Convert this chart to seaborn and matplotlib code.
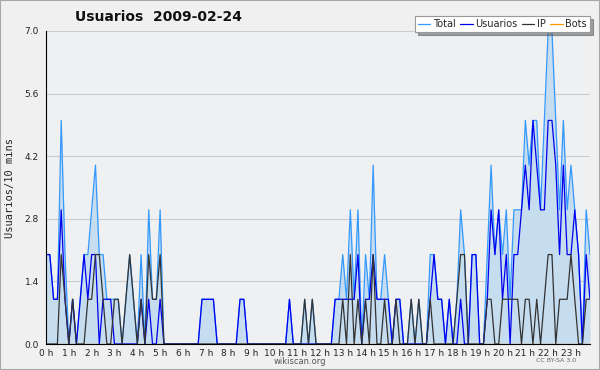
import matplotlib
matplotlib.use("Agg")
import matplotlib.pyplot as plt
from matplotlib.patches import Rectangle
import seaborn as sns
import pandas as pd
import numpy as np

# ---- data (one value every 10 minutes, 144 points) ----
hours = [f"{h} h" for h in range(24)]

usuarios = [
    2, 2, 1, 1, 3, 1, 0, 1, 0, 1, 2, 1, 2, 2, 0, 1, 1, 1, 0, 0, 0, 0, 0, 0,
    0, 1, 0, 1, 0, 0, 1, 0, 0, 0, 0, 0, 0, 0, 0, 0, 0, 1, 1, 1, 1, 0, 0, 0,
    0, 0, 0, 1, 1, 0, 0, 0, 0, 0, 0, 0, 0, 0, 0, 0, 1, 0, 0, 0, 0, 0, 0, 0,
    0, 0, 0, 0, 1, 1, 1, 1, 1, 1, 2, 0, 1, 1, 2, 1, 1, 1, 1, 0, 1, 1, 0, 0,
    0, 0, 0, 0, 0, 1, 2, 1, 1, 0, 1, 0, 0, 1, 0, 0, 2, 2, 0, 0, 1, 3, 2, 3,
    1, 2, 0, 2, 2, 3, 4, 3, 5, 4, 3, 3, 5, 5, 4, 2, 4, 2, 2, 3, 2, 0, 2, 1,
]
ip = [
    0, 0, 0, 0, 2, 1, 0, 1, 0, 0, 0, 1, 1, 2, 2, 1, 0, 0, 1, 1, 0, 1, 2, 1,
    0, 1, 0, 2, 1, 1, 2, 0, 0, 0, 0, 0, 0, 0, 0, 0, 0, 0, 0, 0, 0, 0, 0, 0,
    0, 0, 0, 0, 0, 0, 0, 0, 0, 0, 0, 0, 0, 0, 0, 0, 0, 0, 0, 0, 1, 0, 1, 0,
    0, 0, 0, 0, 0, 0, 1, 0, 2, 0, 1, 0, 1, 0, 2, 0, 0, 1, 0, 0, 1, 0, 0, 0,
    1, 0, 1, 0, 0, 1, 0, 0, 0, 0, 0, 0, 1, 2, 2, 0, 0, 0, 0, 0, 1, 1, 0, 0,
    1, 1, 1, 1, 1, 0, 1, 1, 0, 1, 0, 1, 2, 2, 0, 1, 1, 1, 2, 1, 0, 0, 1, 1,
]
total = [
    2, 2, 1, 1, 5, 2, 0, 1, 0, 1, 2, 2, 3, 4, 2, 2, 1, 1, 1, 1, 0, 1, 2, 1,
    0, 2, 0, 3, 1, 1, 3, 0, 0, 0, 0, 0, 0, 0, 0, 0, 0, 1, 1, 1, 1, 0, 0, 0,
    0, 0, 0, 1, 1, 0, 0, 0, 0, 0, 0, 0, 0, 0, 0, 0, 1, 0, 0, 0, 1, 0, 1, 0,
    0, 0, 0, 0, 1, 1, 2, 1, 3, 1, 3, 0, 2, 1, 4, 1, 1, 2, 1, 0, 1, 1, 0, 0,
    1, 0, 1, 0, 0, 2, 2, 1, 1, 0, 1, 0, 1, 3, 2, 0, 2, 2, 0, 0, 2, 4, 2, 3,
    2, 3, 1, 3, 3, 3, 5, 4, 5, 5, 3, 5, 7, 7, 5, 3, 5, 3, 4, 3, 2, 0, 3, 2,
]
bots = [
    0, 0, 0, 0, 0, 0, 0, 0, 0, 0, 0, 0, 0, 0, 0, 0, 0, 0, 0, 0, 0, 0, 0, 0,
    0, 0, 0, 0, 0, 0, 0, 0, 0, 0, 0, 0, 0, 0, 0, 0, 0, 0, 0, 0, 0, 0, 0, 0,
    0, 0, 0, 0, 0, 0, 0, 0, 0, 0, 0, 0, 0, 0, 0, 0, 0, 0, 0, 0, 0, 0, 0, 0,
    0, 0, 0, 0, 0, 0, 0, 0, 0, 0, 0, 0, 0, 0, 0, 0, 0, 0, 0, 0, 0, 0, 0, 0,
    0, 0, 0, 0, 0, 0, 0, 0, 0, 0, 0, 0, 0, 0, 0, 0, 0, 0, 0, 0, 0, 0, 0, 0,
    0, 0, 0, 0, 0, 0, 0, 0, 0, 0, 0, 0, 0, 0, 0, 0, 0, 0, 0, 0, 0, 0, 0, 0,
]
y_ticks = [0.0, 1.4, 2.8, 4.2, 5.6, 7.0]

df = pd.DataFrame({
    "slot": np.arange(len(total)),
    "Total": total, "Usuarios": usuarios, "IP": ip, "Bots": bots,
})

sns.set_theme(style="white")
plt.rcParams["font.family"] = ["DejaVu Sans"]

W, H = 600, 370
fig = plt.figure(figsize=(6, 3.7), dpi=100, facecolor="#f0f0f0")
ax = fig.add_axes([46 / W, 26 / H, 544 / W, 313 / H])
ax.set_facecolor("#eef0f2")

ax.fill_between(df["slot"], df["Total"], color="#c6dcef", lw=0, zorder=1)
sns.lineplot(data=df, x="slot", y="Bots", color="#ff9900", lw=0.9, ax=ax,
             label="Bots", zorder=2)
sns.lineplot(data=df, x="slot", y="Total", color="#3399ff", lw=0.9, ax=ax,
             label="Total", zorder=3)
sns.lineplot(data=df, x="slot", y="Usuarios", color="#0000ee", lw=0.9, ax=ax,
             label="Usuarios", zorder=4)
sns.lineplot(data=df, x="slot", y="IP", color="#333333", lw=0.9, ax=ax,
             label="IP", zorder=5)

ax.set_xlim(0, len(total) - 1)
ax.set_ylim(0, 7)
ax.set_xticks(np.arange(0, 144, 6))
ax.set_xticklabels(hours)
ax.set_xticks(np.arange(0, 144, 1), minor=True)
ax.set_yticks(y_ticks)
ax.set_yticklabels([f"{v:.1f}" for v in y_ticks])
ax.set_yticks(np.arange(0, 7.01, 0.35), minor=True)
ax.tick_params(axis="x", which="major", direction="out", length=3,
               width=0.8, color="black", labelsize=6.5, pad=0.5,
               labelcolor="#222222")
ax.tick_params(axis="y", which="major", direction="out", length=4.5,
               width=0.8, color="black", labelsize=6.5, pad=0.5,
               labelcolor="#222222")
ax.tick_params(axis="both", which="minor", direction="out", length=2.2,
               width=0.7, color="black")
ax.yaxis.grid(True, which="major", color="#c4c4c4", lw=0.8, alpha=0.8,
              zorder=1.5)
for gl in ax.get_ygridlines():
    gl.set_zorder(1.5)
for s in ["top", "right"]:
    ax.spines[s].set_visible(False)
for s in ["left", "bottom"]:
    ax.spines[s].set_color("black")
    ax.spines[s].set_linewidth(0.8)
    ax.spines[s].set_zorder(6)

ax.set_xlabel("")
ax.set_ylabel("Usuarios/10 mins", fontsize=7.5, family="DejaVu Sans Mono",
              color="#222222")
ax.yaxis.set_label_coords(-(46 - 15) / 544, 0.5)

handles, labels = ax.get_legend_handles_labels()
order = ["Total", "Usuarios", "IP", "Bots"]
hmap = dict(zip(labels, handles))
leg = ax.legend([hmap[k] for k in order], order, loc="upper right",
                bbox_to_anchor=(590 / W, 1 - 16 / H),
                bbox_transform=fig.transFigure, ncol=4, fontsize=7,
                frameon=True, fancybox=False, shadow=True, edgecolor="#999999",
                framealpha=1, handlelength=1.25, handletextpad=0.3,
                columnspacing=0.45, borderpad=0.3, borderaxespad=0)
leg.get_frame().set_linewidth(0.8)
leg.set_zorder(10)

fig.text(75 / W, 1 - 17 / H, "Usuarios  2009-02-24", fontsize=10,
         weight="bold", ha="left", va="center", color="#111111")
fig.text(300 / W, 1 - 361 / H, "wikiscan.org", fontsize=6, color="#555555",
         ha="center", va="center")
fig.text(556 / W, 1 - 361 / H, "CC BY-SA 3.0", fontsize=4.5, color="#666666",
         ha="center", va="center")

fig.patches.append(Rectangle((0, 0), 1, 1, transform=fig.transFigure,
                             fill=False, edgecolor="#a8a8a8", lw=1.5))

fig.savefig("out.png", dpi=100, facecolor=fig.get_facecolor())
